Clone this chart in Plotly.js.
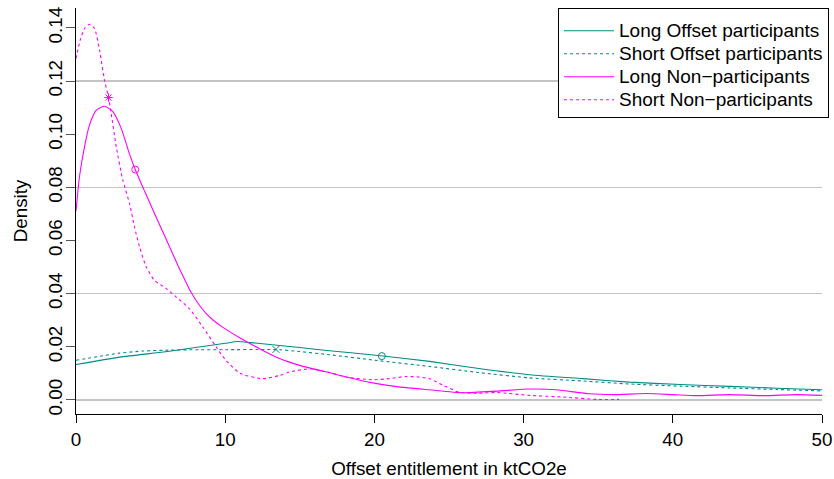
<!DOCTYPE html>
<html><head><meta charset="utf-8">
<script src="https://cdn.plot.ly/plotly-3.0.1.min.js"></script>
<style>body{margin:0;padding:0;background:#fff}#chart{width:834px;height:479px}</style>
</head><body><div id="chart"></div>
<script>
// Density curves
const longOffsetX = [0, 2.92, 6, 8, 10, 10.8, 12, 13.65, 15, 17, 20.1, 23.7, 27, 30.4, 34, 37.1, 40.5, 43.8, 47, 50];
const longOffsetY = [0.0133, 0.0161, 0.0181, 0.0197, 0.0213, 0.0220, 0.0214, 0.0205, 0.0197, 0.0185, 0.0168, 0.0145, 0.0118, 0.0095, 0.0080, 0.0067, 0.0058, 0.0051, 0.0044, 0.0038];

const shortOffsetX = [0, 2.92, 4.5, 6, 8.3, 10, 12.8, 13.65, 15, 17, 20.1, 23.7, 27, 30.4, 34, 37.1, 40.5, 43.8, 47, 50];
const shortOffsetY = [0.0149, 0.0176, 0.0184, 0.0187, 0.0189, 0.0189, 0.0190, 0.0189, 0.0182, 0.0170, 0.0149, 0.0126, 0.0103, 0.0083, 0.0071, 0.0060, 0.0052, 0.0045, 0.0039, 0.0034];

const longNonX = [0, 0.23, 0.57, 0.9, 1.35, 1.91, 2.47, 3.03, 3.59, 3.97, 4.6, 5.3, 6.0, 6.6, 6.94, 7.3, 7.73, 8.2, 8.7, 9.2, 9.85, 10.97, 12.3, 13.65, 15, 17, 19.7, 21.5, 23.7, 25.9, 28.2, 30.4, 32.2, 34.4, 36, 38.2, 40, 41.6, 43.8, 46.1, 48.3, 50];
const longNonY = [0.071, 0.0839, 0.0952, 0.1034, 0.109, 0.1105, 0.1085, 0.1022, 0.0925, 0.0867, 0.0785, 0.0697, 0.0610, 0.0535, 0.0493, 0.0451, 0.0403, 0.0362, 0.0327, 0.0300, 0.0273, 0.0234, 0.0193, 0.0156, 0.0130, 0.0102, 0.0066, 0.0050, 0.0038, 0.0027, 0.0033, 0.0041, 0.0038, 0.0023, 0.0020, 0.0024, 0.0020, 0.0016, 0.0020, 0.0016, 0.0020, 0.0017];

const shortNonX = [0, 0.28, 0.57, 0.9, 1.24, 1.58, 1.91, 2.18, 2.36, 2.7, 3.14, 3.59, 3.92, 4.26, 4.71, 5.26, 6.05, 6.72, 7.61, 8.5, 9.4, 9.96, 11.0, 12.5, 13.65, 14.3, 15.7, 17, 18.1, 19.9, 21, 22.1, 23, 23.7, 24.6, 25.7, 27, 28.2, 30.4, 32.6, 34.9, 36.4];
const shortNonY = [0.1285, 0.1354, 0.1398, 0.1414, 0.1398, 0.1316, 0.1203, 0.1138, 0.1078, 0.0952, 0.0827, 0.0739, 0.0651, 0.0576, 0.0500, 0.0450, 0.0419, 0.0387, 0.0343, 0.0274, 0.0199, 0.0155, 0.0100, 0.0080, 0.0092, 0.0105, 0.0117, 0.0103, 0.0086, 0.0076, 0.0080, 0.0088, 0.0086, 0.0080, 0.0055, 0.0029, 0.0025, 0.0028, 0.0017, 0.0011, 0.0002, 0.0002];

// Marked points (medians)
const markLongOffset = [20.5, 0.0165];
const markShortOffset = [13.4, 0.019];
const markLongNon = [3.97, 0.0867];
const markShortNon = [2.18, 0.1138];

const seriesNames = ["Long Offset participants", "Short Offset participants", "Long Non\u2212participants", "Short Non\u2212participants"];
const xTicks = [0, 10, 20, 30, 40, 50];
const yTicks = [0, 0.02, 0.04, 0.06, 0.08, 0.10, 0.12, 0.14];
const yGrid = [0, 0.04, 0.08, 0.12];

const TEAL = "#008B8B", MAG = "#FF00FF";
const FONT = "Liberation Sans, Arial, Helvetica, sans-serif";
const FS = 18.8;

function curve(x, y, name, color, dash) {
  return {x: x, y: y, name: '<span style="font-size:19px">' + name + '</span>', type: "scatter", mode: "lines",
    line: {color: color, width: 1.1, dash: dash, shape: "spline", smoothing: 0.6}};
}
function mark(p, color, symbol) {
  return {x: [p[0]], y: [p[1]], type: "scatter", mode: "markers", showlegend: false, hoverinfo: "skip",
    marker: {color: color, symbol: symbol, size: 7, line: {color: color, width: 1}}};
}

const data = [
  {x: [0], y: [0], yaxis: "y2", mode: "markers", marker: {opacity: 0}, showlegend: false, hoverinfo: "skip"},
  curve(longOffsetX, longOffsetY, seriesNames[0], TEAL, "solid"),
  curve(shortOffsetX, shortOffsetY, seriesNames[1], TEAL, "3px,3px"),
  curve(longNonX, longNonY, seriesNames[2], MAG, "solid"),
  curve(shortNonX, shortNonY, seriesNames[3], MAG, "3px,3px"),
  mark(markLongOffset, TEAL, "circle-open"),
  mark(markShortOffset, TEAL, "x-thin-open"),
  mark(markLongNon, MAG, "circle-open"),
  mark(markShortNon, MAG, "asterisk-open")
];

const yr = [-0.0053, 0.1475];
const layout = {
  width: 834, height: 479,
  margin: {l: 76, r: 12, t: 8, b: 65, autoexpand: false},
  paper_bgcolor: "#fff", plot_bgcolor: "#fff",
  font: {family: FONT, size: FS, color: "#000"},
  showlegend: true,
  legend: {x: 1.0094, xanchor: "right", y: 1, yanchor: "top",
    bgcolor: "#fff", bordercolor: "#000", borderwidth: 1, itemwidth: 50,
    title: {text: "&nbsp;", font: {family: FONT, size: 4}},
    font: {family: FONT, size: 15.4, color: "#000"}, tracegroupgap: 0},
  xaxis: {range: [0, 50], tickvals: xTicks, ticktext: xTicks.map(String), automargin: false,
    showgrid: false, zeroline: false, showline: true, linecolor: "#000", linewidth: 1,
    ticks: "outside", ticklen: 8, tickcolor: "#000",
    tickfont: {family: FONT, size: FS},
    title: {text: "Offset entitlement in ktCO2e", font: {family: FONT, size: FS}, standoff: 14}},
  yaxis: {range: yr, tickvals: yTicks, ticktext: yTicks.map(v => v.toFixed(2)), tickangle: -90, automargin: false,
    showgrid: false, zeroline: false, showline: true, linecolor: "#000", linewidth: 1,
    ticks: "outside", ticklen: 9, tickcolor: "#555", ticklabelstandoff: -4,
    tickfont: {family: FONT, size: FS},
    title: {text: "Density", font: {family: FONT, size: FS}, standoff: 12}},
  yaxis2: {range: yr, overlaying: "y", tickvals: yGrid, showticklabels: false, ticks: "", automargin: false,
    showgrid: true, gridcolor: "#C4C4C4", gridwidth: 1.2, zeroline: false, showline: false}
};

Plotly.newPlot("chart", data, layout, {staticPlot: true, displayModeBar: false});
</script></body></html>
